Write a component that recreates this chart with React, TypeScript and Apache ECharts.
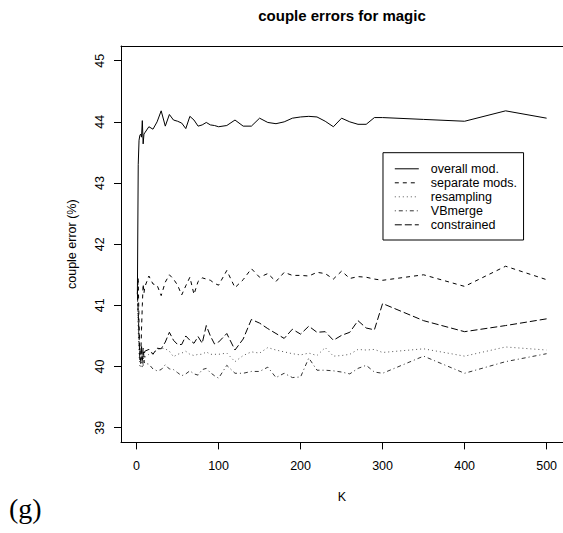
import React, { useEffect, useRef } from "react";
import * as echarts from "echarts";

const ks = [
  1, 2, 3, 4, 5, 6, 7, 8, 9, 10,
  15, 20, 25, 30, 35, 40, 45, 50, 55, 60, 65, 70, 75, 80, 85, 90, 95, 100,
  110, 120, 130, 140, 150, 160, 170, 180, 190, 200, 210, 220, 230, 240, 250, 260, 270, 280, 290, 300,
  350, 400, 450, 500,
];

const overallMod = [
  41.2, 43.3, 43.7, 43.78, 43.8, 43.75, 44.02, 43.64, 43.8, 43.82,
  43.92, 43.88, 44.0, 44.18, 43.93, 44.12, 44.03, 44.01, 43.98, 43.89, 44.09, 44.03, 43.93, 43.95, 43.99, 43.95, 43.94, 43.92,
  43.94, 44.03, 43.93, 43.93, 44.06, 43.99, 43.97, 44.0, 44.06, 44.08, 44.09, 44.08, 44.01, 43.92, 44.06, 44.0, 43.96, 43.96, 44.07, 44.07,
  44.04, 44.01, 44.18, 44.06,
];

const separateMods = [
  41.2, 41.45, 40.7, 40.2, 40.1, 40.6, 41.0, 41.35, 41.2, 41.3,
  41.48, 41.35, 41.33, 41.16, 41.38, 41.5, 41.43, 41.33, 41.17, 41.32, 41.46, 41.18, 41.39, 41.45, 41.43, 41.41, 41.36, 41.33,
  41.57, 41.29, 41.42, 41.6, 41.46, 41.52, 41.39, 41.54, 41.49, 41.49, 41.48, 41.54, 41.52, 41.43, 41.56, 41.44, 41.47, 41.46, 41.43, 41.41,
  41.5, 41.31, 41.64, 41.42,
];

const resampling = [
  41.2, 40.6, 40.2, 40.0, 39.98, 40.1, 39.97, 40.2, 40.05, 40.15,
  40.2, 40.22, 40.27, 40.3, 40.29, 40.25, 40.16, 40.2, 40.22, 40.25, 40.2, 40.18, 40.2, 40.2, 40.24, 40.2, 40.2, 40.2,
  40.22, 40.08, 40.18, 40.24, 40.22, 40.31, 40.27, 40.24, 40.21, 40.19, 40.22, 40.18, 40.31, 40.17, 40.18, 40.2, 40.28, 40.27, 40.28, 40.23,
  40.29, 40.17, 40.32, 40.27,
];

const vbMerge = [
  41.2, 40.8, 40.4, 40.2, 40.3, 40.1, 40.2, 40.0, 40.1, 40.05,
  40.04, 39.96, 39.93, 39.95, 40.03, 39.96, 39.95, 39.9, 39.85, 39.88, 39.93, 39.88, 39.86, 39.95, 39.97, 39.9, 39.85, 39.81,
  40.02, 39.89, 39.89, 39.92, 39.92, 39.99, 39.82, 39.89, 39.82, 39.83, 40.14, 39.94, 39.94, 39.93, 39.91, 39.88, 39.97, 40.02, 39.91, 39.89,
  40.17, 39.89, 40.08, 40.21,
];

const constrained = [
  41.2, 40.9, 40.5, 40.1, 40.05, 40.35, 40.1, 40.3, 40.15, 40.25,
  40.28, 40.2, 40.3, 40.29, 40.4, 40.56, 40.43, 40.36, 40.36, 40.5, 40.43, 40.38, 40.49, 40.38, 40.67, 40.5, 40.37, 40.4,
  40.54, 40.27, 40.45, 40.77, 40.71, 40.62, 40.54, 40.46, 40.61, 40.53, 40.66, 40.56, 40.57, 40.43, 40.51, 40.56, 40.75, 40.63, 40.6, 41.03,
  40.75, 40.57, 40.67, 40.78,
];

const xTicks = [0, 100, 200, 300, 400, 500];
const yTicks = [39, 40, 41, 42, 43, 44, 45];

const seriesDefs = [
  { name: "overall mod.", values: overallMod, dash: "solid" as any, color: "#000" },
  { name: "separate mods.", values: separateMods, dash: [4, 4], color: "#000" },
  { name: "resampling", values: resampling, dash: [1, 3], color: "#555" },
  { name: "VBmerge", values: vbMerge, dash: [1, 3, 4, 3], color: "#333" },
  { name: "constrained", values: constrained, dash: [7, 3], color: "#000" },
];

const FONT = "'Liberation Sans', Arial, Helvetica, sans-serif";

export default function App() {
  const ref = useRef<HTMLDivElement>(null);
  useEffect(() => {
    if (!ref.current) return;
    const chart = echarts.init(ref.current, null, { renderer: "svg" });
    const axisText = { color: "#000", fontSize: 12.5, fontFamily: FONT };
    chart.setOption({
      animation: false,
      backgroundColor: "#fff",
      grid: { left: 121, right: 0, top: 46, bottom: 90.6, containLabel: false },
      xAxis: [
        {
          type: "value",
          min: -19,
          max: 520,
          position: "bottom",
          axisLine: { show: true, onZero: false, lineStyle: { color: "#000", width: 1 } },
          axisTick: { show: true, customValues: xTicks, length: 7, inside: false, lineStyle: { color: "#000" } },
          axisLabel: { show: true, customValues: xTicks, margin: 17, ...axisText },
          splitLine: { show: false },
          name: "K",
          nameLocation: "middle",
          nameGap: 48,
          nameTextStyle: axisText,
        },
        {
          type: "value",
          min: -19,
          max: 520,
          position: "top",
          axisLine: { show: true, onZero: false, lineStyle: { color: "#000", width: 1 } },
          axisTick: { show: false },
          axisLabel: { show: false },
          splitLine: { show: false },
        },
      ],
      yAxis: {
        type: "value",
        min: 38.76,
        max: 45.24,
        axisLine: { show: true, onZero: false, lineStyle: { color: "#000", width: 1 } },
        axisTick: { show: true, customValues: yTicks, length: 7, inside: false, lineStyle: { color: "#000" } },
        axisLabel: { show: true, customValues: yTicks, rotate: 90, margin: 14.5, ...axisText },
        splitLine: { show: false },
        name: "couple error (%)",
        nameLocation: "middle",
        nameGap: 43,
        nameRotate: 90,
        nameTextStyle: axisText,
      },
      legend: {
        orient: "vertical",
        left: 383,
        top: 152.7,
        padding: [9.6, 6.6, 8.7, 11.3],
        borderColor: "#000",
        borderWidth: 1,
        itemWidth: 24,
        itemHeight: 14,
        itemGap: 1,
        selectedMode: false,
        itemStyle: { opacity: 0 },
        lineStyle: { width: 1 },
        textStyle: { ...axisText, padding: [0, 0, 0, 7] },
        data: seriesDefs.map((s) => s.name),
      },
      graphic: [
        {
          type: "text",
          x: 342,
          y: 15.5,
          style: {
            text: "couple errors for magic",
            fill: "#000",
            font: `bold 15px ${FONT}`,
            textAlign: "center",
            textVerticalAlign: "middle",
          },
        },
        {
          type: "text",
          x: 9,
          y: 508,
          style: {
            text: "(g)",
            fill: "#000",
            font: "28px 'Liberation Serif', 'DejaVu Serif', serif",
            textAlign: "left",
            textVerticalAlign: "middle",
          },
        },
      ],
      series: seriesDefs.map((s) => ({
        name: s.name,
        type: "line",
        xAxisIndex: 0,
        yAxisIndex: 0,
        symbol: "none",
        silent: true,
        data: ks.map((k, i) => [k, s.values[i]]),
        lineStyle: { color: s.color, width: 1, type: s.dash },
        itemStyle: { color: s.color },
      })),
    });
    return () => chart.dispose();
  }, []);
  return (
    <div
      ref={ref}
      style={{ position: "absolute", left: 0, top: 0, width: 563, height: 533, background: "#fff" }}
    />
  );
}
